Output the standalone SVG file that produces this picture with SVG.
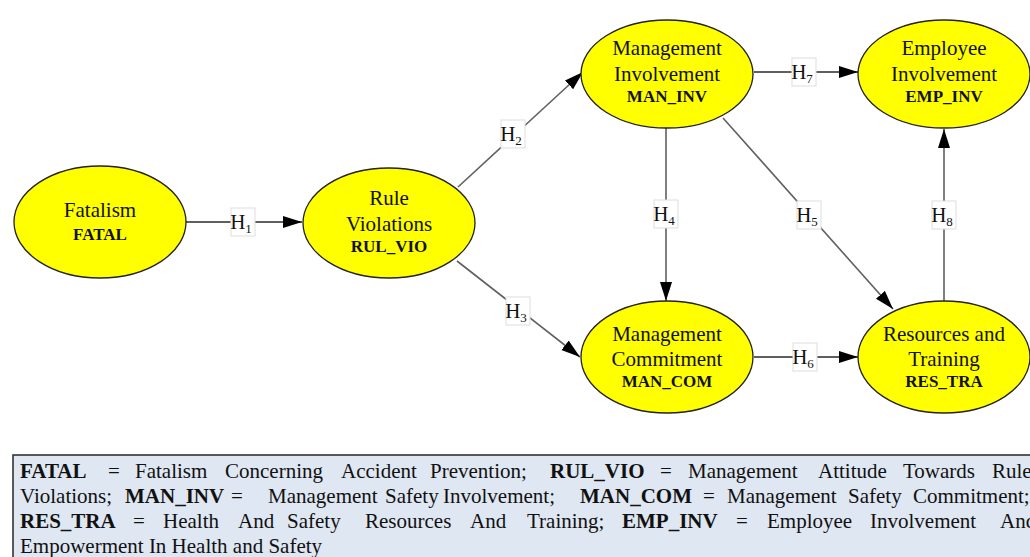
<svg xmlns="http://www.w3.org/2000/svg" width="1030" height="557" viewBox="0 0 1030 557">
<style>
.node ellipse{fill:#ffff00;stroke:#222;stroke-width:1.3}
.nm{font-family:'Liberation Serif','Times New Roman','DejaVu Serif',serif;font-size:21px;fill:#111;text-anchor:middle}
.cd{font-family:'Liberation Serif','Times New Roman','DejaVu Serif',serif;font-size:17px;font-weight:bold;fill:#111;text-anchor:middle}
.edge{stroke:#606060;stroke-width:1.6;fill:none;marker-end:url(#arr)}
.dk{stroke:#2a2a2a}
.lb rect{fill:#fff;stroke:#ddd;stroke-width:1}
.lb text{font-family:'Liberation Serif','Times New Roman','DejaVu Serif',serif;font-size:21px;fill:#111;text-anchor:middle}
.lg{font-family:'Liberation Serif','Times New Roman','DejaVu Serif',serif;font-size:21px;fill:#111}
.b{font-weight:bold}
</style>
<defs>
<marker id="arr" markerUnits="userSpaceOnUse" markerWidth="20" markerHeight="13" refX="19" refY="6.5" orient="auto">
<path d="M0,0.5 L19,6.5 L0,12.5 z" fill="#000"/>
</marker>
</defs>
<rect width="1030" height="557" fill="#fff"/>
<g id="connectors">
<line class="edge dk" x1="186" y1="222" x2="302" y2="222"/>
<line class="edge" x1="458" y1="187" x2="583" y2="72"/>
<line class="edge" x1="457" y1="261" x2="580" y2="357"/>
<line class="edge" x1="666" y1="128" x2="666" y2="301"/>
<line class="edge" x1="723" y1="118" x2="893" y2="309"/>
<line class="edge dk" x1="754" y1="357" x2="858" y2="357"/>
<line class="edge dk" x1="754" y1="72" x2="858" y2="72"/>
<line class="edge" x1="944" y1="302" x2="944" y2="129"/>
<g class="lb" id="lbl-h1"><rect x="231" y="208" width="24" height="28"/><text x="241" y="229">H<tspan font-size="13" dy="4">1</tspan></text></g>
<g class="lb" id="lbl-h2"><rect x="501" y="120" width="24" height="28"/><text x="511" y="141">H<tspan font-size="13" dy="4">2</tspan></text></g>
<g class="lb" id="lbl-h3"><rect x="506" y="297" width="24" height="28"/><text x="516" y="318">H<tspan font-size="13" dy="4">3</tspan></text></g>
<g class="lb" id="lbl-h4"><rect x="654" y="200" width="24" height="28"/><text x="664" y="221">H<tspan font-size="13" dy="4">4</tspan></text></g>
<g class="lb" id="lbl-h5"><rect x="797" y="201" width="24" height="28"/><text x="807" y="222">H<tspan font-size="13" dy="4">5</tspan></text></g>
<g class="lb" id="lbl-h6"><rect x="793" y="343" width="24" height="28"/><text x="803" y="364">H<tspan font-size="13" dy="4">6</tspan></text></g>
<g class="lb" id="lbl-h7"><rect x="792" y="58" width="24" height="28"/><text x="802" y="79">H<tspan font-size="13" dy="4">7</tspan></text></g>
<g class="lb" id="lbl-h8"><rect x="932" y="201" width="24" height="28"/><text x="942" y="222">H<tspan font-size="13" dy="4">8</tspan></text></g>
</g>
<g id="FATAL" class="node">
<ellipse cx="100" cy="222" rx="86" ry="56"/>
<text class="nm" x="100" y="217">Fatalism</text>
<text class="cd" x="100" y="240">FATAL</text>
</g>
<g id="RUL_VIO" class="node">
<ellipse cx="389" cy="223" rx="86" ry="55"/>
<text class="nm" x="389" y="205">Rule</text>
<text class="nm" x="389" y="231">Violations</text>
<text class="cd" x="389" y="252">RUL_VIO</text>
</g>
<g id="MAN_INV" class="node">
<ellipse cx="667" cy="74" rx="86" ry="54"/>
<text class="nm" x="667" y="55">Management</text>
<text class="nm" x="667" y="81">Involvement</text>
<text class="cd" x="667" y="102">MAN_INV</text>
</g>
<g id="EMP_INV" class="node">
<ellipse cx="944" cy="74" rx="86" ry="54"/>
<text class="nm" x="944" y="55">Employee</text>
<text class="nm" x="944" y="81">Involvement</text>
<text class="cd" x="944" y="102">EMP_INV</text>
</g>
<g id="MAN_COM" class="node">
<ellipse cx="667" cy="357" rx="86" ry="56"/>
<text class="nm" x="667" y="341">Management</text>
<text class="nm" x="667" y="366">Commitment</text>
<text class="cd" x="667" y="387">MAN_COM</text>
</g>
<g id="RES_TRA" class="node">
<ellipse cx="944" cy="357" rx="86" ry="56"/>
<text class="nm" x="944" y="341">Resources and</text>
<text class="nm" x="944" y="366">Training</text>
<text class="cd" x="944" y="387">RES_TRA</text>
</g>
<g id="legend">
<rect x="13" y="455" width="1030" height="110" fill="#dfe7f2" stroke="#333" stroke-width="1.6"/>
<text class="lg" y="478"><tspan class="b" x="20">FATAL</tspan><tspan x="108">=</tspan><tspan x="135">Fatalism</tspan><tspan x="225">Concerning</tspan><tspan x="341">Accident</tspan><tspan x="430">Prevention;</tspan><tspan class="b" x="550">RUL_VIO</tspan><tspan x="660">=</tspan><tspan x="688">Management</tspan><tspan x="818">Attitude</tspan><tspan x="903">Towards</tspan><tspan x="992">Rule</tspan></text>
<text class="lg" y="503"><tspan x="20">Violations;</tspan><tspan class="b" x="125">MAN_INV</tspan><tspan x="231">=</tspan><tspan x="268">Management</tspan><tspan x="385">Safety</tspan><tspan x="443">Involvement;</tspan><tspan class="b" x="580">MAN_COM</tspan><tspan x="703">=</tspan><tspan x="727">Management</tspan><tspan x="848">Safety</tspan><tspan x="913">Commitment;</tspan></text>
<text class="lg" y="528"><tspan class="b" x="20">RES_TRA</tspan><tspan x="133">=</tspan><tspan x="163">Health</tspan><tspan x="238">And</tspan><tspan x="287">Safety</tspan><tspan x="365">Resources</tspan><tspan x="470">And</tspan><tspan x="527">Training;</tspan><tspan class="b" x="622">EMP_INV</tspan><tspan x="736">=</tspan><tspan x="767">Employee</tspan><tspan x="870">Involvement</tspan><tspan x="1000">And</tspan></text>
<text class="lg" x="20" y="553">Empowerment In Health and Safety</text>
</g>
</svg>
